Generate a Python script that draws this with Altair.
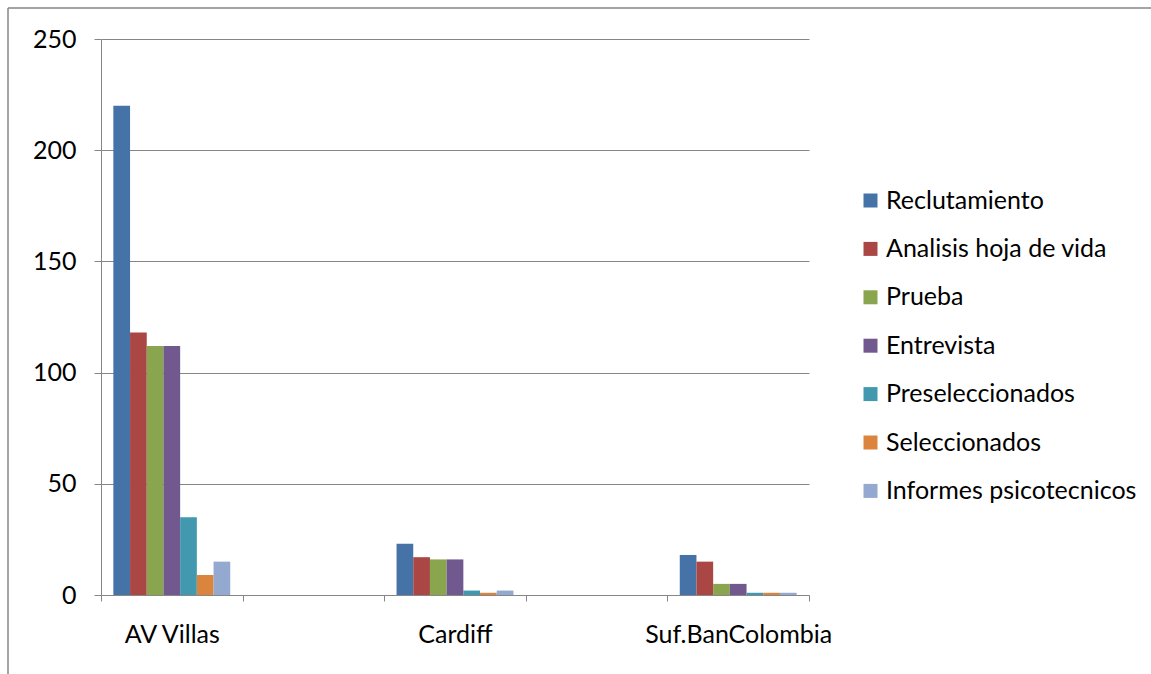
import altair as alt
import pandas as pd

categories = ["AV Villas", "Cardiff", "Suf.BanColombia"]
x_domain = ["AV Villas", "_gap1", "Cardiff", "_gap2", "Suf.BanColombia"]
series = ["Reclutamiento", "Analisis hoja de vida", "Prueba", "Entrevista",
          "Preseleccionados", "Seleccionados", "Informes psicotecnicos"]
values = {
    "AV Villas": [220, 118, 112, 112, 35, 9, 15],
    "Cardiff": [23, 17, 16, 16, 2, 1, 2],
    "Suf.BanColombia": [18, 15, 5, 5, 1, 1, 1],
}
colors = ["#4572A7", "#AA4643", "#89A54E", "#71588F", "#4198AF", "#DB843D", "#93A9CF"]
y_ticks = [0, 50, 100, 150, 200, 250]

rows = []
for c in categories:
    for s, v in zip(series, values[c]):
        rows.append({"Empresa": c, "Etapa": s, "Valor": v})
df = pd.DataFrame(rows)

FONT = "Lato"
GRAY = "#868686"
FS = 25

bars = alt.Chart(df).mark_bar().encode(
    x=alt.X("Empresa:N", scale=alt.Scale(domain=x_domain, paddingInner=0, paddingOuter=0),
            axis=alt.Axis(title=None, labelAngle=0, tickBand="extent", tickSize=6,
                          labelPadding=21, labelFontSize=FS, labelFont=FONT, labelColor="black",
                          labelLimit=0, labelOverlap=False,
                          labelExpr="indexof(datum.label, '_gap') == 0 ? '' : datum.label",
                          domainColor=GRAY, tickColor=GRAY, grid=False)),
    xOffset=alt.XOffset("Etapa:N", scale=alt.Scale(domain=series, paddingInner=0, paddingOuter=0.74)),
    y=alt.Y("Valor:Q", scale=alt.Scale(domain=[0, 250], nice=False),
            axis=alt.Axis(title=None, values=y_ticks, tickSize=7, labelPadding=18,
                          labelFontSize=FS, labelFont=FONT, labelColor="black",
                          domainColor=GRAY, tickColor=GRAY, gridColor=GRAY, grid=True)),
    color=alt.Color("Etapa:N", scale=alt.Scale(domain=series, range=colors),
                    legend=alt.Legend(title=None, orient="none", legendX=757, legendY=149,
                                      symbolType="square", symbolSize=196, symbolStrokeWidth=0,
                                      labelFontSize=FS, labelFont=FONT, labelColor="black",
                                      labelLimit=0, labelOffset=3, rowPadding=22.4, padding=0)),
)

border_data = alt.Data(values=[{"a": 1}])
top_line = alt.Chart(border_data).mark_rule(color=GRAY, strokeWidth=1.5).encode(
    x=alt.value(-93), x2=alt.value(1060), y=alt.value(-31))
left_line = alt.Chart(border_data).mark_rule(color=GRAY, strokeWidth=1.5).encode(
    x=alt.value(-93), y=alt.value(-31), y2=alt.value(650))

chart = alt.layer(bars, top_line, left_line).properties(
    width=708, height=556,
    autosize=alt.AutoSizeParams(type="none"),
    padding={"left": 101, "top": 39, "right": 342, "bottom": 79},
    background="white",
).configure_view(stroke=None)

chart.save("out.html", embed_options={"renderer": "svg", "actions": False})
